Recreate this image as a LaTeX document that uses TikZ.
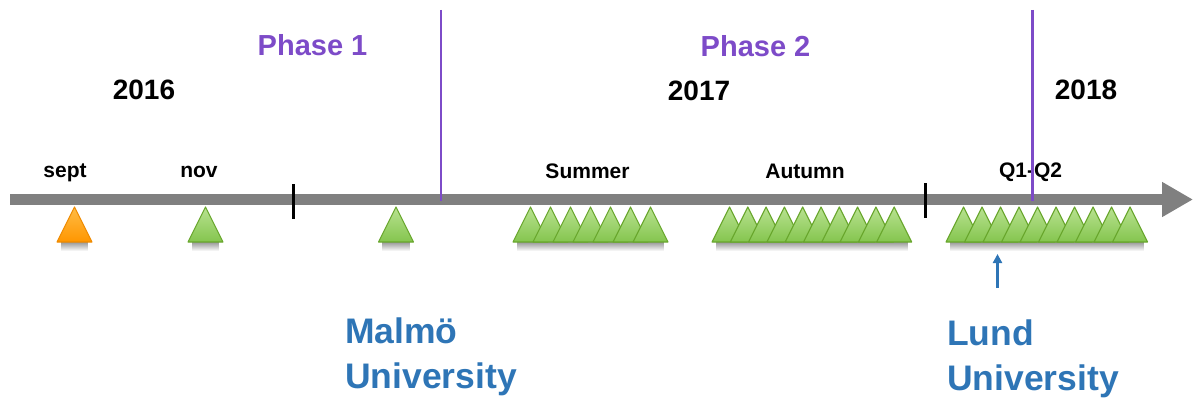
\documentclass[tikz,border=0pt]{standalone}
\usepackage{fontspec}
\setmainfont{Liberation Sans}
\usetikzlibrary{arrows.meta,fadings}

\definecolor{axisgray}{RGB}{128,128,128}
\definecolor{phaseviolet}{RGB}{125,75,200}
\definecolor{unilblue}{RGB}{46,117,182}
\definecolor{greenhi}{RGB}{185,226,145}
\definecolor{greenlo}{RGB}{132,197,78}
\definecolor{greenedge}{RGB}{104,166,44}
\definecolor{orangehi}{RGB}{255,188,70}
\definecolor{orangelo}{RGB}{255,150,0}
\definecolor{orangeedge}{RGB}{238,138,0}

\tikzset{
  x=1pt, y=-1pt,
  yeartext/.style={font=\fontsize{28}{30}\selectfont\bfseries, text=black},
  phasetext/.style={font=\fontsize{29}{31}\selectfont\bfseries, text=phaseviolet},
  periodtext/.style={font=\fontsize{21}{23}\selectfont\bfseries, text=black},
  unitext/.style={font=\fontsize{35.5}{45}\selectfont\bfseries, text=unilblue, align=left, inner sep=0pt},
  phaseline/.style={draw=phaseviolet, line width=2.6pt},
  yeartick/.style={draw=black, line width=3pt},
  greentri/.style={top color=greenhi, bottom color=greenlo, draw=greenedge, line width=1.1pt, line join=round},
  orangetri/.style={top color=orangehi, bottom color=orangelo, draw=orangeedge, line width=1.1pt, line join=round},
  softshadow/.style={fill=black, opacity=0.45, path fading=south},
  pics/tri/.style={code={\path[#1] (-17.5,0) -- (0,-35) -- (17.5,0) -- cycle;}},
}

\begin{document}
\begin{tikzpicture}
\useasboundingbox (0,0) rectangle (1193,401);

% soft shadows beneath the markers
\foreach \l/\r in {57/92, 188/223, 378/414, 513/668, 712/912, 946/1148}
  \fill[softshadow] (\l+4,241) rectangle (\r-4,251);

% time axis
\coordinate (axisstart) at (10,199.5);
\coordinate (axisend) at (1193,199.5);
\draw[axisgray, line width=11pt, -{Triangle[length=31pt,width=33pt]}] (axisstart) -- (axisend);

% year boundaries
\coordinate (tickA) at (293,184);
\coordinate (tickAb) at (293,219);
\coordinate (tickB) at (925,183);
\coordinate (tickBb) at (925,218);
\draw[yeartick] (tickA) -- (tickAb);
\draw[yeartick] (tickB) -- (tickBb);

% markers
\pic at (74.5,242) {tri=orangetri};
\pic at (205.5,242) {tri=greentri};
\pic at (396,242) {tri=greentri};
\foreach \i in {0,...,6}
  \pic at (530.5+20*\i,242) {tri=greentri};
\foreach \i in {0,...,9}
  \pic at (729.5+18.3*\i,242) {tri=greentri};
\foreach \i in {0,...,9}
  \pic at (963.5+18.5*\i,242) {tri=greentri};

% labels
\node[yeartext] (y2016) at (144,90) {2016};
\node[yeartext] (y2017) at (699,91) {2017};
\node[yeartext] (y2018) at (1086,90) {2018};
\node[phasetext] (ph1) at (312.5,45.5) {Phase 1};
\node[phasetext] (ph2) at (755.5,46) {Phase 2};
\node[periodtext, anchor=base] (sept) at (65,177) {sept};
\node[periodtext, anchor=base] (nov) at (199,177) {nov};
\node[periodtext, anchor=base] (summer) at (587.5,178) {Summer};
\node[periodtext, anchor=base] (autumn) at (805,178) {Autumn};
\node[periodtext, anchor=base] (q) at (1030.5,177) {Q1-Q2};

% phase boundaries
\coordinate (phA) at (441,10);
\coordinate (phAb) at (441,201);
\coordinate (phB) at (1032.5,10);
\coordinate (phBb) at (1032.5,201);
\draw[phaseline] (phA) -- (phAb);
\draw[phaseline] (phB) -- (phBb);

% universities (base anchor sits on the last line)
\node[unitext, anchor=base west] (malmo) at (345,388) {Malmö\\University};
\node[unitext, anchor=base west] (lund) at (947,390) {Lund\\University};

\coordinate (lundtail) at (997.5,288);
\coordinate (lundtip) at (997.5,254);
\draw[unilblue, line width=2.4pt, -{Triangle[length=9pt,width=9pt]}] (lundtail) -- (lundtip);
\end{tikzpicture}
\end{document}
